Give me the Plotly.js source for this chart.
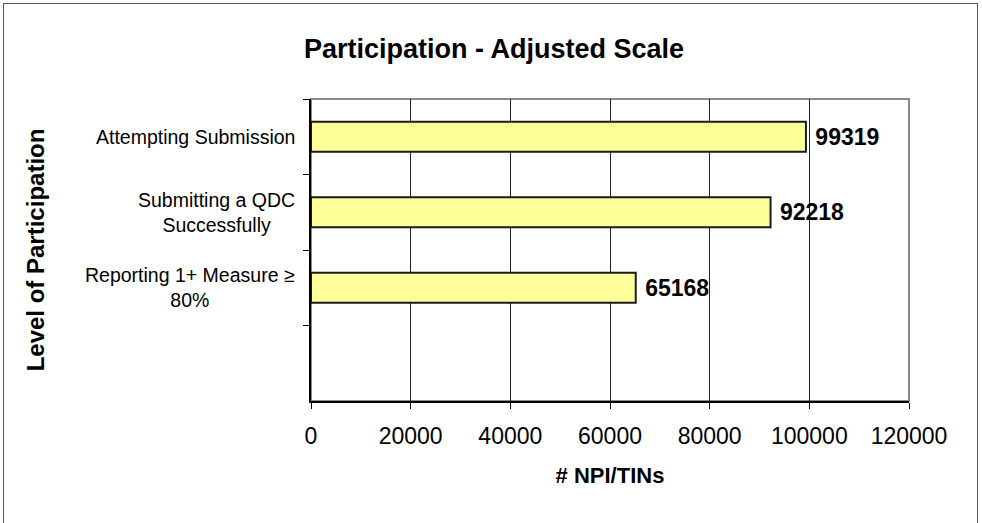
<!DOCTYPE html>
<html>
<head>
<meta charset="utf-8">
<script src="https://cdn.plot.ly/plotly-3.0.1.min.js"></script>
<style>
  html, body { margin: 0; padding: 0; background: #fff; }
  #wrap { position: relative; width: 982px; height: 523px; overflow: hidden; }
  #chart { position: absolute; left: 0; top: 0; width: 982px; height: 523px; }
  #frame { position: absolute; left: 3px; top: 3px; width: 973px; height: 540px;
           border: 1px solid #555; pointer-events: none; }
</style>
</head>
<body>
<div id="wrap">
  <div id="chart"></div>
  <div id="frame"></div>
</div>
<script>
const chartTitle = 'Participation - Adjusted Scale';
const xTitle = '# NPI/TINs';
const yTitle = 'Level of Participation';
const categories = ['Attempting Submission', 'Submitting a QDC<br>Successfully', 'Reporting 1+ Measure \u2265<br>80%', ' '];
const values = [99319, 92218, 65168, null];
const xTickVals = [0, 20000, 40000, 60000, 80000, 100000, 120000];

const FONT = 'Liberation Sans, Arial, sans-serif';

const trace = {
  type: 'bar',
  orientation: 'h',
  y: categories,
  x: values,
  width: 0.4,
  marker: { color: '#FFFF99', line: { color: '#1a1a1a', width: 2 } },
  text: values.map(v => v == null ? '' : String(v)),
  texttemplate: ' %{text}',
  textposition: 'outside',
  constraintext: 'none',
  cliponaxis: false,
  textfont: { family: FONT, size: 23, color: '#000', weight: 'bold' },
  hoverinfo: 'skip'
};

const annotations = categories.filter(c => c.trim() !== '').map(c => ({
  xref: 'paper', x: 0, xanchor: 'right', xshift: -14,
  yref: 'y', y: c, yanchor: 'middle',
  text: c, align: 'center', showarrow: false,
  font: { family: FONT, size: 19.5, color: '#000' }
}));

const layout = {
  width: 982, height: 523,
  margin: { l: 311, r: 73, t: 99, b: 122, pad: 0 },
  paper_bgcolor: '#fff', plot_bgcolor: '#fff',
  showlegend: false,
  font: { family: FONT, color: '#000' },
  title: {
    text: '<b>' + chartTitle + '</b>',
    font: { family: FONT, size: 27, color: '#000' },
    x: 0.503, xanchor: 'center', xref: 'container',
    y: 0.907, yanchor: 'middle', yref: 'container'
  },
  xaxis: {
    range: [0, 120000],
    tickvals: xTickVals,
    tickformat: 'd',
    showgrid: true, gridcolor: '#222', gridwidth: 1,
    zeroline: false,
    showline: true, linecolor: '#000', linewidth: 2,
    ticks: 'outside', ticklen: 6, tickcolor: '#000', tickwidth: 1,
    ticklabelstandoff: 7,
    tickfont: { family: FONT, size: 23, color: '#000' },
    title: { text: '<b>' + xTitle + '</b>', standoff: 20,
             font: { family: FONT, size: 22, color: '#000' } },
    fixedrange: true
  },
  yaxis: {
    type: 'category',
    categoryorder: 'array', categoryarray: categories,
    range: [3.5, -0.5],
    showticklabels: false,
    tickson: 'boundaries',
    ticks: 'outside', ticklen: 6, tickcolor: '#000', tickwidth: 1,
    showgrid: false, zeroline: false,
    showline: true, linecolor: '#000', linewidth: 2,
    title: { text: '<b>' + yTitle + '</b>', standoff: 258,
             font: { family: FONT, size: 24, color: '#000' } },
    fixedrange: true
  },
  shapes: [{
    type: 'rect', xref: 'paper', yref: 'paper', x0: 0, x1: 1, y0: 0, y1: 1,
    line: { color: '#8a8a8a', width: 2 }, layer: 'below'
  }],
  annotations: annotations
};

Plotly.newPlot('chart', [trace], layout, { displayModeBar: false, staticPlot: true });
</script>
</body>
</html>
